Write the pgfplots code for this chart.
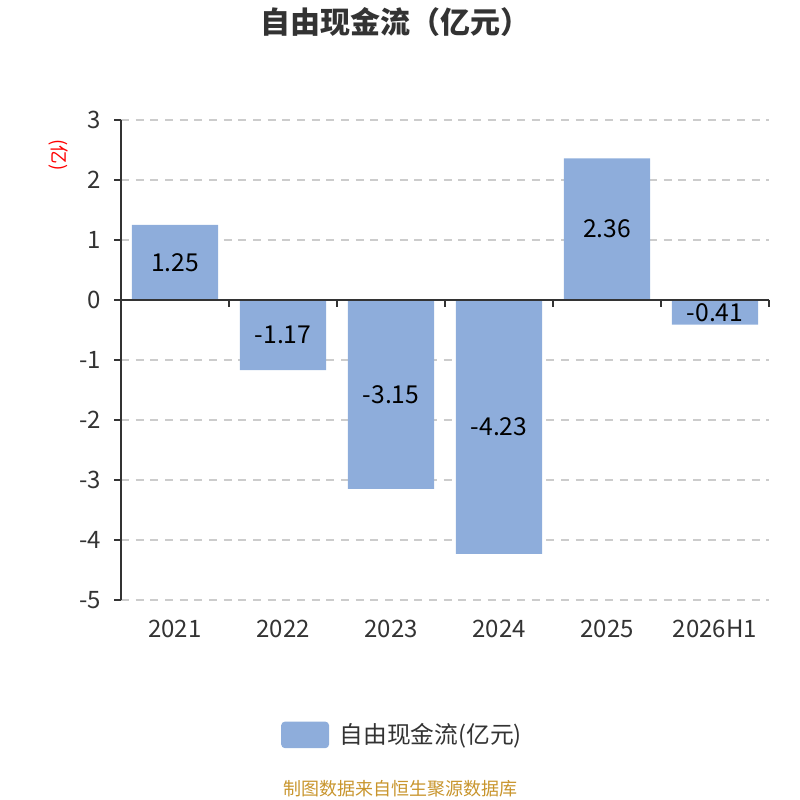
\documentclass[border=0pt]{standalone}
\usepackage{pgfplots}
\pgfplotsset{compat=1.18}
\usepackage{pgfplotstable}
\usepackage{fontspec}
\setmainfont{Noto Sans CJK SC}
\definecolor{barc}{HTML}{8EADDB}
\definecolor{txt}{HTML}{333333}
\definecolor{gridc}{HTML}{CCCCCC}
\definecolor{foot}{HTML}{C8952D}
\pgfplotstableread{
x y lab
0 1.25 1.25
1 -1.17 -1.17
2 -3.15 -3.15
3 -4.23 -4.23
4 2.36 2.36
5 -0.41 -0.41
}\data
\begin{document}
\begin{tikzpicture}
\useasboundingbox (0,0) rectangle (600pt,600pt);
\begin{axis}[
  at={(90.75pt,150pt)}, anchor=south west,
  scale only axis, width=486pt, height=360pt,
  xmin=-0.5, xmax=5.5, ymin=-5, ymax=3,
  axis y line*=left, axis x line*=bottom,
  x axis line style={draw=none},
  y axis line style={draw=txt, line width=1.4pt},
  xtick={0,...,5},
  xticklabels={2021,2022,2023,2024,2025,2026H1},
  xtick style={draw=none},
  ytick={-5,-4,...,3},
  ytick style={draw=txt, line width=1.4pt},
  tick align=outside, major tick length=5pt,
  ymajorgrids, grid style={gridc, line width=1.1pt, dash pattern=on 6pt off 5pt},
  /pgf/number format/assume math mode=true,
  ticklabel style={font=\fontsize{18pt}{20pt}\selectfont, text=txt},
  xticklabel style={anchor=center, yshift=-16.5pt},
  yticklabel style={anchor=east, inner sep=0pt, xshift=-10pt},
  clip=false,
  legend style={at={(0.435,-0.281)}, anchor=center, draw=none, fill=none,
    font=\fontsize{17.8pt}{20pt}\selectfont, text=txt},
  legend cell align=left,
]
\addplot[ybar, bar width=0.8, fill=barc, draw=none,
  legend image code/.code={\fill[barc, rounded corners=3pt] (0pt,-10pt) rectangle (36pt,10pt);}]
  table[x=x, y=y] {\data};
\addlegendentry{\hspace{6pt}自由现金流(亿元)}
\addplot[draw=none, mark=none, forget plot, nodes near coords, point meta=explicit symbolic,
  nodes near coords style={anchor=center, font=\fontsize{18.5pt}{20pt}\selectfont, text=black}]
  table[x=x, y expr=\thisrow{y}/2, meta=lab] {\data};
\draw[txt, line width=1.4pt] (axis cs:-0.5,0) -- (axis cs:5.5,0);
\draw[txt, line width=1.4pt] (axis cs:0.5,0) -- ([yshift=-5pt]axis cs:0.5,0);
\draw[txt, line width=1.4pt] (axis cs:1.5,0) -- ([yshift=-5pt]axis cs:1.5,0);
\draw[txt, line width=1.4pt] (axis cs:2.5,0) -- ([yshift=-5pt]axis cs:2.5,0);
\draw[txt, line width=1.4pt] (axis cs:3.5,0) -- ([yshift=-5pt]axis cs:3.5,0);
\draw[txt, line width=1.4pt] (axis cs:4.5,0) -- ([yshift=-5pt]axis cs:4.5,0);
\draw[txt, line width=1.4pt] (axis cs:5.5,0) -- ([yshift=-5pt]axis cs:5.5,0);
\end{axis}
\node[font=\bfseries\fontsize{22.5pt}{26pt}\selectfont, text=txt] at (296.5pt,583.5pt) {自由现金流（亿元）};
\node[font=\fontsize{14pt}{16pt}\selectfont, text=red, rotate=-90] at (43.5pt,483.75pt) {(亿)};
\node[font=\fontsize{13.5pt}{15pt}\selectfont, text=foot] at (300pt,8.25pt) {制图数据来自恒生聚源数据库};
\end{tikzpicture}
\end{document}
